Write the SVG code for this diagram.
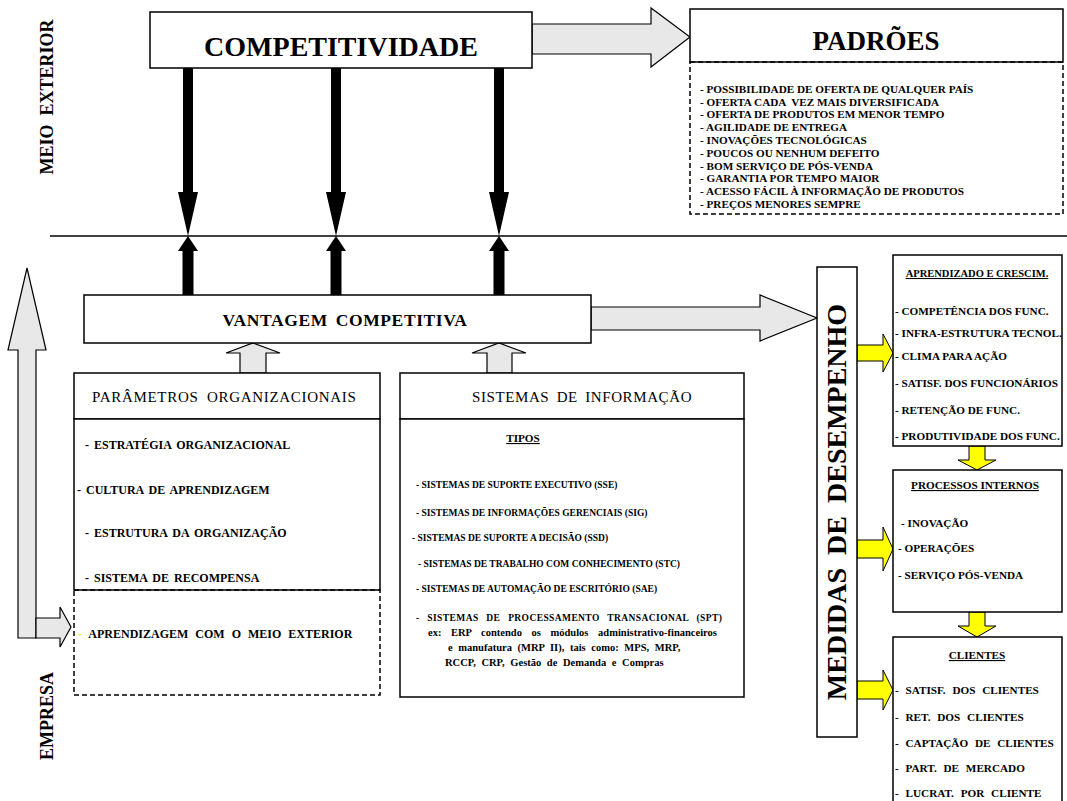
<svg xmlns="http://www.w3.org/2000/svg" width="1067" height="801" viewBox="0 0 1067 801">
<style>
.box{fill:#fff;stroke:#000;stroke-width:1.5}
.dash{fill:none;stroke:#000;stroke-width:1.5;stroke-dasharray:5 3}
.grey{fill:#e8e8e8;stroke:#000;stroke-width:1.2}
.yel{fill:#ffff00;stroke:#000;stroke-width:1}
.blk{fill:#000}
.sep{stroke:#000;stroke-width:1.5}
text{font-family:"Liberation Serif","Times New Roman",serif;font-weight:bold;fill:#000}
.reg{font-weight:normal}
.u{text-decoration:underline}
.m{text-anchor:middle}
.s11{font-size:11.2px}
.s10{font-size:10.5px}
.s9{font-size:9.5px}
.s12{font-size:12px;word-spacing:2px}
.ws{word-spacing:4px}
</style>

<line class="sep" x1="50" y1="236" x2="1067" y2="236"/>

<g id="labels">
<text x="53" y="97" class="m" font-size="18" transform="rotate(-90 53 97)" style="white-space:pre">MEIO  EXTERIOR</text>
<text x="53" y="716" class="m" font-size="18" transform="rotate(-90 53 716)">EMPRESA</text>
</g>

<g id="connectors">
<polygon class="grey" points="532,24 651,24 651,8 690,37 651,67 651,54 532,54"/>
<polygon class="blk" points="183,68 193,68 193,192 198,192 188,236 178,192 183,192"/>
<polygon class="blk" points="331,68 341,68 341,192 346,192 336,236 326,192 331,192"/>
<polygon class="blk" points="494,68 504,68 504,192 509,192 499,236 489,192 494,192"/>
<polygon class="blk" points="188,236 198,251 193.5,251 193.5,295 182.5,295 182.5,251 178,251"/>
<polygon class="blk" points="336,236 346,251 341.5,251 341.5,295 330.5,295 330.5,251 326,251"/>
<polygon class="blk" points="499,236 509,251 504.5,251 504.5,295 493.5,295 493.5,251 489,251"/>
<polygon class="grey" points="240,373 240,353 226,353 253,343 280,353 266,353 266,373"/>
<polygon class="grey" points="487,373 487,353 472,353 499,343 526,353 512,353 512,373"/>
<polygon class="grey" points="591,307 760,307 760,295 817,318 760,341 760,330 591,330"/>
<polygon class="grey" points="18,638 18,350 8,350 27,268 46,350 36,350 36,638"/>
<polygon class="grey" points="36,618 60,618 60,607 71,627 60,647 60,638 36,638"/>
<polygon class="yel" points="857,345 883,345 883,334 893,353 883,372 883,361 857,361"/>
<polygon class="yel" points="857,540 883,540 883,527 893,549 883,571 883,558 857,558"/>
<polygon class="yel" points="857,681 883,681 883,670 893,690 883,710 883,699 857,699"/>
<polygon class="yel" points="969,446 985,446 985,460 996,460 977,470 958,460 969,460"/>
<polygon class="yel" points="969,612 985,612 985,626 996,626 977,637 958,626 969,626"/>
</g>

<g id="competitividade">
<rect class="box" x="150" y="12" width="382" height="56"/>
<text x="341" y="56" class="m" font-size="28">COMPETITIVIDADE</text>
</g>

<g id="padroes">
<rect class="box" x="690" y="9" width="373" height="53"/>
<text x="876" y="50" class="m" font-size="27">PADRÕES</text>
<rect class="dash" x="690" y="62" width="373" height="152"/>
<g font-size="11.2">
<text x="700" y="93">- POSSIBILIDADE DE OFERTA DE QUALQUER PAÍS</text>
<text x="700" y="106" style="white-space:pre">- OFERTA CADA  VEZ MAIS DIVERSIFICADA</text>
<text x="700" y="118">- OFERTA DE PRODUTOS EM MENOR TEMPO</text>
<text x="700" y="131">- AGILIDADE DE ENTREGA</text>
<text x="700" y="144">- INOVAÇÕES TECNOLÓGICAS</text>
<text x="700" y="157">- POUCOS OU NENHUM DEFEITO</text>
<text x="700" y="170">- BOM SERVIÇO DE PÓS-VENDA</text>
<text x="700" y="182">- GARANTIA POR TEMPO MAIOR</text>
<text x="700" y="195">- ACESSO FÁCIL À INFORMAÇÃO DE PRODUTOS</text>
<text x="700" y="208">- PREÇOS MENORES SEMPRE</text>
</g>
</g>

<g id="vantagem">
<rect class="box" x="84" y="295" width="507" height="48"/>
<text x="345" y="326" class="m" font-size="17.5" style="letter-spacing:0.6px;word-spacing:3px">VANTAGEM COMPETITIVA</text>
</g>

<g id="parametros">
<rect class="box" x="74" y="373" width="306" height="46"/>
<text x="92" y="402" class="reg" font-size="15" style="letter-spacing:0.7px;word-spacing:4px">PARÂMETROS ORGANIZACIONAIS</text>
<rect class="box" x="74" y="419" width="306" height="171"/>
<g class="s12">
<text x="85" y="449">- ESTRATÉGIA ORGANIZACIONAL</text>
<text x="77" y="494">- CULTURA DE APRENDIZAGEM</text>
<text x="85" y="537">- ESTRUTURA DA ORGANIZAÇÃO</text>
<text x="85" y="582">- SISTEMA DE RECOMPENSA</text>
</g>
<rect class="dash" x="74" y="590" width="306" height="105"/>
<text x="78" y="638" font-size="12" style="word-spacing:4px"><tspan fill="#ffff00">-</tspan> APRENDIZAGEM COM O MEIO EXTERIOR</text>
</g>

<g id="sistemas">
<rect class="box" x="400" y="373" width="344" height="46"/>
<text x="472" y="402" class="reg" font-size="15" style="letter-spacing:0.6px;word-spacing:3px">SISTEMAS DE INFORMAÇÃO</text>
<rect class="box" x="400" y="419" width="344" height="278"/>
<text x="523" y="442" class="m u s11">TIPOS</text>
<g class="s9">
<text x="416" y="488">- SISTEMAS DE SUPORTE EXECUTIVO (SSE)</text>
<text x="416" y="516">- SISTEMAS DE INFORMAÇÕES GERENCIAIS (SIG)</text>
<text x="412" y="541">- SISTEMAS DE SUPORTE A DECISÃO (SSD)</text>
<text x="418" y="567">- SISTEMAS DE TRABALHO COM CONHECIMENTO (STC)</text>
<text x="416" y="592">- SISTEMAS DE AUTOMAÇÃO DE ESCRITÓRIO (SAE)</text>
<text x="416" y="621" style="word-spacing:5px;letter-spacing:0.4px">- SISTEMAS DE PROCESSAMENTO TRANSACIONAL (SPT)</text>
</g>
<g font-size="10.5">
<text x="428" y="636" style="word-spacing:7px">ex: ERP contendo os módulos administrativo-financeiros</text>
<text x="448" y="651" style="word-spacing:3px">e manufatura (MRP II), tais como: MPS, MRP,</text>
<text x="445" y="666" style="word-spacing:3px">RCCP, CRP, Gestão de Demanda e Compras</text>
</g>
</g>

<g id="medidas">
<rect class="box" x="817" y="267" width="40" height="470"/>
<text x="846" y="502" class="m" font-size="28" transform="rotate(-90 846 502)" style="word-spacing:6px">MEDIDAS DE DESEMPENHO</text>
</g>

<g id="aprendizado">
<rect class="box" x="893" y="255" width="169" height="191"/>
<text x="977" y="277" class="m u s10">APRENDIZADO E CRESCIM.</text>
<g class="s11">
<text x="895" y="315">- COMPETÊNCIA DOS FUNC.</text>
<text x="895" y="337">- INFRA-ESTRUTURA TECNOL.</text>
<text x="895" y="360">- CLIMA PARA AÇÃO</text>
<text x="895" y="387">- SATISF. DOS FUNCIONÁRIOS</text>
<text x="895" y="414">- RETENÇÃO DE FUNC.</text>
<text x="895" y="440">- PRODUTIVIDADE DOS FUNC.</text>
</g>
</g>

<g id="processos">
<rect class="box" x="893" y="470" width="169" height="142"/>
<text x="975" y="489" class="m u s11">PROCESSOS INTERNOS</text>
<g class="s11">
<text x="901" y="527">- INOVAÇÃO</text>
<text x="898" y="552">- OPERAÇÕES</text>
<text x="898" y="579">- SERVIÇO PÓS-VENDA</text>
</g>
</g>

<g id="clientes">
<rect class="box" x="893" y="637" width="169" height="170"/>
<text x="977" y="659" class="m u s11">CLIENTES</text>
<g class="s11 ws">
<text x="895" y="694">- SATISF. DOS CLIENTES</text>
<text x="895" y="721">- RET. DOS CLIENTES</text>
<text x="895" y="747">- CAPTAÇÃO DE CLIENTES</text>
<text x="895" y="772">- PART. DE MERCADO</text>
<text x="895" y="797">- LUCRAT. POR CLIENTE</text>
</g>
</g>
</svg>
